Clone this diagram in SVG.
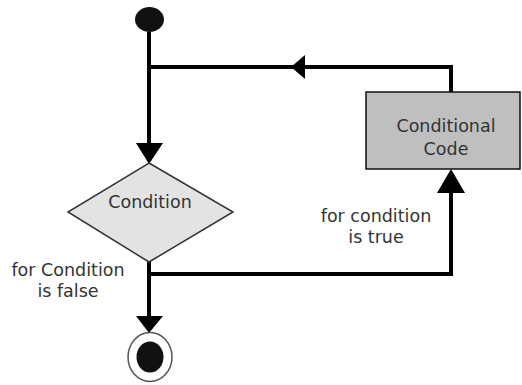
<svg xmlns="http://www.w3.org/2000/svg" width="522" height="385" viewBox="0 0 522 385">
<style>
.ln{fill:none;stroke:#000;stroke-width:4}
.ah{fill:#000}
.t{font-family:"DejaVu Sans",Verdana,sans-serif;font-size:17.5px;fill:#333;text-anchor:middle}
</style>
<rect width="522" height="385" fill="#fff"/>
<g id="connectors">
<path class="ln" d="M149,32 V150"/>
<polygon class="ah" points="136,143 163,143 149,164"/>
<path class="ln" d="M147,67 H451 V92"/>
<polygon class="ah" points="291,67 305,55 305,79"/>
<path class="ln" d="M149,262 V320"/>
<path class="ln" d="M149,274 H451 V185"/>
<polygon class="ah" points="451,169 437,193 465,193"/>
<polygon class="ah" points="136,316 163,316 149,333"/>
</g>
<g id="start"><ellipse cx="149.5" cy="19.5" rx="14.5" ry="12.5" fill="#111"/></g>
<g id="condition">
<polygon points="149,163 233,212 149,262 68,212" fill="#e3e3e3" stroke="#333" stroke-width="1.5"/>
<text class="t" x="150" y="208">Condition</text>
</g>
<g id="code">
<rect x="366" y="92" width="154" height="77" fill="#bfbfbf" stroke="#111" stroke-width="1.5"/>
<text class="t" x="446" y="132">Conditional</text>
<text class="t" x="446" y="155">Code</text>
</g>
<g id="end">
<ellipse cx="150" cy="357" rx="22" ry="24.5" fill="#fff" stroke="#555" stroke-width="1.5"/>
<ellipse cx="150" cy="357" rx="13.5" ry="15.5" fill="#111"/>
</g>
<g id="labels">
<text class="t" x="68" y="276">for Condition</text>
<text class="t" x="68" y="297">is false</text>
<text class="t" x="376" y="222">for condition</text>
<text class="t" x="376" y="243">is true</text>
</g>
</svg>
